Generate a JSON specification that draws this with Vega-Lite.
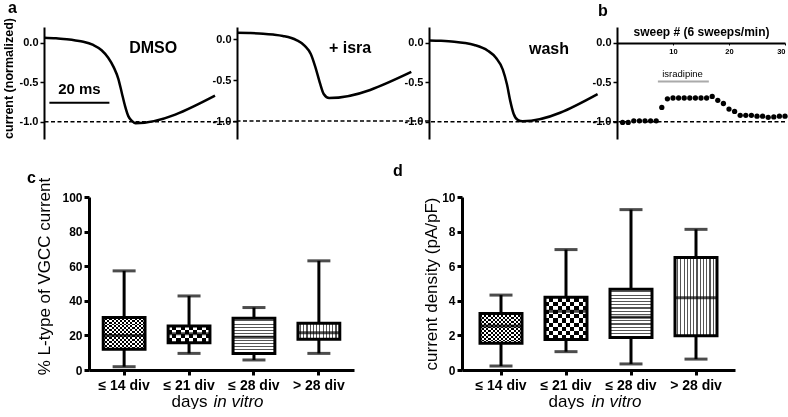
{
"$schema": "https://vega.github.io/schema/vega-lite/v6.json",
"padding": {"left": 2, "top": -1, "right": 0, "bottom": 0},
"config": {
  "view": {"stroke": null},
  "font": "Liberation Sans",
  "axis": {"grid": false, "domainColor": "black", "tickColor": "black", "labelColor": "black", "titleColor": "black", "labelFont": "Liberation Sans", "titleFont": "Liberation Sans", "labelFontWeight": "bold", "labelOverlap": false},
  "title": {"font": "Liberation Sans", "fontWeight": "bold", "fontSize": 16, "color": "black", "anchor": "start", "frame": "group"}
},
"datasets": {
  "tr": [
    {"c":"DMSO","t":0,"v":0.065},{"c":"DMSO","t":4,"v":0.058},{"c":"DMSO","t":7.6,"v":0.044},{"c":"DMSO","t":10.5,"v":0.03},{"c":"DMSO","t":13.1,"v":0.014},{"c":"DMSO","t":16.4,"v":-0.028},{"c":"DMSO","t":19.2,"v":-0.095},{"c":"DMSO","t":21.4,"v":-0.19},{"c":"DMSO","t":23.3,"v":-0.315},{"c":"DMSO","t":24.8,"v":-0.46},{"c":"DMSO","t":25.9,"v":-0.63},{"c":"DMSO","t":27,"v":-0.8},{"c":"DMSO","t":28.1,"v":-0.93},{"c":"DMSO","t":29.3,"v":-0.99},{"c":"DMSO","t":30.5,"v":-1.02},{"c":"DMSO","t":57,"v":-0.67},
    {"c":"isra","t":0,"v":0.08},{"c":"isra","t":4,"v":0.076},{"c":"isra","t":8.7,"v":0.068},{"c":"isra","t":12,"v":0.057},{"c":"isra","t":15.3,"v":0.04},{"c":"isra","t":19.8,"v":-0.01},{"c":"isra","t":22.6,"v":-0.08},{"c":"isra","t":24.6,"v":-0.18},{"c":"isra","t":26.2,"v":-0.35},{"c":"isra","t":27.6,"v":-0.53},{"c":"isra","t":28.9,"v":-0.67},{"c":"isra","t":30.7,"v":-0.72},{"c":"isra","t":58.1,"v":-0.4},
    {"c":"wash","t":0,"v":0.03},{"c":"wash","t":4,"v":0.025},{"c":"wash","t":8.4,"v":0.014},{"c":"wash","t":12,"v":-0.003},{"c":"wash","t":15.1,"v":-0.028},{"c":"wash","t":19.6,"v":-0.1},{"c":"wash","t":22.3,"v":-0.19},{"c":"wash","t":24.6,"v":-0.34},{"c":"wash","t":26,"v":-0.53},{"c":"wash","t":27.1,"v":-0.74},{"c":"wash","t":28.2,"v":-0.9},{"c":"wash","t":29.7,"v":-0.98},{"c":"wash","t":31.2,"v":-0.995},{"c":"wash","t":56.2,"v":-0.65}
  ],
  "sw": [
    {"s":1,"v":-1.01},{"s":2,"v":-1.01},{"s":3,"v":-0.99},{"s":4,"v":-0.99},{"s":5,"v":-0.99},{"s":6,"v":-0.99},{"s":7,"v":-0.99},{"s":8,"v":-0.82},{"s":9,"v":-0.71},{"s":10,"v":-0.7},
    {"s":11,"v":-0.7},{"s":12,"v":-0.7},{"s":13,"v":-0.7},{"s":14,"v":-0.7},{"s":15,"v":-0.7},{"s":16,"v":-0.7},{"s":17,"v":-0.68},{"s":18,"v":-0.73},{"s":19,"v":-0.77},{"s":20,"v":-0.84},
    {"s":21,"v":-0.87},{"s":22,"v":-0.92},{"s":23,"v":-0.92},{"s":24,"v":-0.92},{"s":25,"v":-0.93},{"s":26,"v":-0.93},{"s":27,"v":-0.945},{"s":28,"v":-0.94},{"s":29,"v":-0.93},{"s":30,"v":-0.93}
  ],
  "boxc": [
    {"g":"≤ 14 div","lo":1.9,"q1":12.0,"med":20.0,"q3":30.3,"hi":57.3},
    {"g":"≤ 21 div","lo":9.6,"q1":15.8,"med":21.0,"q3":25.5,"hi":42.8},
    {"g":"≤ 28 div","lo":5.8,"q1":9.6,"med":19.0,"q3":29.9,"hi":36.1},
    {"g":"> 28 div","lo":9.6,"q1":17.8,"med":21.6,"q3":27.0,"hi":63.1}
  ],
  "boxd": [
    {"g":"≤ 14 div","lo":0.23,"q1":1.54,"med":2.55,"q3":3.27,"hi":4.33},
    {"g":"≤ 21 div","lo":1.06,"q1":1.76,"med":3.4,"q3":4.2,"hi":6.96},
    {"g":"≤ 28 div","lo":0.35,"q1":1.88,"med":3.05,"q3":4.67,"hi":9.27},
    {"g":"> 28 div","lo":0.63,"q1":1.98,"med":4.17,"q3":6.5,"hi":8.13}
  ]
},
"spacing": 24,
"vconcat": [
{
  "spacing": 0, "bounds": "flush",
  "hconcat": [
  {
    "width": 193, "height": 112,
    "title": {"text": "a", "dx": -36, "offset": -11, "baseline": "alphabetic"},
    "layer": [
      {"data": {"values": [{"v": -1}]}, "mark": {"type": "rule", "strokeDash": [4, 2.5], "strokeWidth": 1.5, "color": "black"},
       "encoding": {"y": {"field": "v", "type": "quantitative", "scale": {"domain": [-1.22, 0.2], "nice": false, "zero": false},
         "axis": {"values": [0, -0.5, -1], "labelExpr": "datum.value === 0 ? '0.0' : (datum.value === -1 ? '-1.0' : '-0.5')", "labelFontSize": 11, "tickSize": 4, "tickWidth": 1.5, "domainWidth": 2, "labelPadding": 2, "title": "current (normalized)", "titleFontSize": 12.5, "titleFontWeight": "bold", "titlePadding": 4, "titleY": 51}}}},
      {"data": {"name": "tr"}, "transform": [{"filter": "datum.c === 'DMSO'"}],
       "mark": {"type": "line", "interpolate": "monotone", "color": "black", "strokeWidth": 2.5},
       "encoding": {"x": {"field": "t", "type": "quantitative", "scale": {"domain": [0, 64.33], "nice": false, "zero": false}, "axis": null},
                    "y": {"field": "v", "type": "quantitative"}}},
      {"data": {"values": [{"t": 1.8, "t2": 21.8, "v": -0.76}]}, "mark": {"type": "rule", "strokeWidth": 2, "color": "black"},
       "encoding": {"x": {"field": "t", "type": "quantitative"}, "x2": {"field": "t2"}, "y": {"field": "v", "type": "quantitative"}}},
      {"data": {"values": [{"t": 11.8, "v": -0.59, "s": "20 ms"}]}, "mark": {"type": "text", "fontSize": 15, "fontWeight": "bold", "color": "black"},
       "encoding": {"x": {"field": "t", "type": "quantitative"}, "y": {"field": "v", "type": "quantitative"}, "text": {"field": "s"}}},
      {"data": {"values": [{"t": 36.4, "v": -0.07, "s": "DMSO"}]}, "mark": {"type": "text", "fontSize": 16, "fontWeight": "bold", "color": "black"},
       "encoding": {"x": {"field": "t", "type": "quantitative"}, "y": {"field": "v", "type": "quantitative"}, "text": {"field": "s"}}}
    ]
  },
  {
    "width": 192, "height": 112,
    "layer": [
      {"data": {"values": [{"v": -1}]}, "mark": {"type": "rule", "strokeDash": [4, 2.5], "strokeWidth": 1.5, "color": "black"},
       "encoding": {"y": {"field": "v", "type": "quantitative", "scale": {"domain": [-1.22, 0.15], "nice": false, "zero": false},
         "axis": {"values": [0, -0.5, -1], "labelExpr": "datum.value === 0 ? '0.0' : (datum.value === -1 ? '-1.0' : '-0.5')", "labelFontSize": 11, "tickSize": 4, "tickWidth": 1.5, "domainWidth": 2, "labelPadding": 2, "title": null}}}},
      {"data": {"name": "tr"}, "transform": [{"filter": "datum.c === 'isra'"}],
       "mark": {"type": "line", "interpolate": "monotone", "color": "black", "strokeWidth": 2.5},
       "encoding": {"x": {"field": "t", "type": "quantitative", "scale": {"domain": [0, 64], "nice": false, "zero": false}, "axis": null},
                    "y": {"field": "v", "type": "quantitative"}}},
      {"data": {"values": [{"t": 37.7, "v": -0.11, "s": "+ isra"}]}, "mark": {"type": "text", "fontSize": 16, "fontWeight": "bold", "color": "black"},
       "encoding": {"x": {"field": "t", "type": "quantitative"}, "y": {"field": "v", "type": "quantitative"}, "text": {"field": "s"}}}
    ]
  },
  {
    "width": 188, "height": 112,
    "layer": [
      {"data": {"values": [{"v": -1}]}, "mark": {"type": "rule", "strokeDash": [4, 2.5], "strokeWidth": 1.5, "color": "black"},
       "encoding": {"y": {"field": "v", "type": "quantitative", "scale": {"domain": [-1.22, 0.2], "nice": false, "zero": false},
         "axis": {"values": [0, -0.5, -1], "labelExpr": "datum.value === 0 ? '0.0' : (datum.value === -1 ? '-1.0' : '-0.5')", "labelFontSize": 11, "tickSize": 4, "tickWidth": 1.5, "domainWidth": 2, "labelPadding": 2, "title": null}}}},
      {"data": {"name": "tr"}, "transform": [{"filter": "datum.c === 'wash'"}],
       "mark": {"type": "line", "interpolate": "monotone", "color": "black", "strokeWidth": 2.5},
       "encoding": {"x": {"field": "t", "type": "quantitative", "scale": {"domain": [0, 62.67], "nice": false, "zero": false}, "axis": null},
                    "y": {"field": "v", "type": "quantitative"}}},
      {"data": {"values": [{"t": 40, "v": -0.08, "s": "wash"}]}, "mark": {"type": "text", "fontSize": 16, "fontWeight": "bold", "color": "black"},
       "encoding": {"x": {"field": "t", "type": "quantitative"}, "y": {"field": "v", "type": "quantitative"}, "text": {"field": "s"}}}
    ]
  },
  {
    "width": 168, "height": 112,
    "title": {"text": "b", "dx": -19, "offset": -7, "baseline": "alphabetic"},
    "layer": [
      {"data": {"values": [{"v": -1}]}, "mark": {"type": "rule", "strokeDash": [4, 2.5], "strokeWidth": 1.5, "color": "black"},
       "encoding": {"y": {"field": "v", "type": "quantitative", "scale": {"domain": [-1.22, 0.2], "nice": false, "zero": false},
         "axis": {"values": [0, -0.5, -1], "labelExpr": "datum.value === 0 ? '0.0' : (datum.value === -1 ? '-1.0' : '-0.5')", "labelFontSize": 11, "tickSize": 4, "tickWidth": 1.5, "domainWidth": 2, "labelPadding": 2, "title": null}}}},
      {"data": {"name": "sw"}, "mark": {"type": "circle", "size": 28, "color": "black", "opacity": 1},
       "encoding": {"x": {"field": "s", "type": "quantitative", "scale": {"domain": [0, 30], "nice": false, "zero": false},
          "axis": {"orient": "bottom", "offset": -96, "values": [10, 20, 30], "labelFontSize": 7.5, "tickSize": 2, "tickWidth": 1, "domainWidth": 2, "labelPadding": 2, "title": "sweep # (6 sweeps/min)", "titleFontSize": 12, "titleFontWeight": "bold", "titleY": -8, "titleBaseline": "alphabetic"}},
                    "y": {"field": "v", "type": "quantitative"}}},
      {"data": {"values": [{"s": 7.3, "s2": 16.4, "v": -0.49}]}, "mark": {"type": "rule", "color": "#aaa", "strokeWidth": 2},
       "encoding": {"x": {"field": "s", "type": "quantitative"}, "x2": {"field": "s2"}, "y": {"field": "v", "type": "quantitative"}}},
      {"data": {"values": [{"s": 11.7, "v": -0.39, "t": "isradipine"}]}, "mark": {"type": "text", "fontSize": 9.5, "color": "black"},
       "encoding": {"x": {"field": "s", "type": "quantitative"}, "y": {"field": "v", "type": "quantitative"}, "text": {"field": "t"}}}
    ]
  }
  ]
},
{
  "spacing": 0, "bounds": "flush",
  "hconcat": [
  {"width": 45, "height": 173, "data": {"values": [{}]}, "mark": {"type": "point", "opacity": 0}, "encoding": {}},
  {
    "width": 265, "height": 173,
    "title": {"text": "c", "dx": -62, "offset": -22, "baseline": "alphabetic"},
    "data": {"name": "boxc"},
    "resolve": {"axis": {"x": "independent"}},
    "layer": [
      {
        "encoding": {"x": {"field": "g", "type": "nominal", "sort": null,
          "scale": {"type": "band", "domain": ["≤ 14 div", "≤ 21 div", "≤ 28 div", "> 28 div"], "paddingInner": 0.356, "paddingOuter": 0.219},
          "axis": {"orient": "bottom", "labelAngle": 0, "labelFontSize": 14, "tickSize": 5, "tickWidth": 3, "domainWidth": 3, "labelPadding": 3, "title": "days", "titleFontSize": 17, "titleFontWeight": "normal", "titleX": 82, "titleY": 36, "titleAlign": "left", "titleBaseline": "alphabetic"}}},
        "layer": [
          {"mark": {"type": "rule", "strokeWidth": 3, "color": "black"},
           "encoding": {"y": {"field": "lo", "type": "quantitative", "title": "% L-type of VGCC current", "scale": {"domain": [0, 100], "nice": false},
              "axis": {"values": [0, 20, 40, 60, 80, 100], "labelFontSize": 12, "labelFontWeight": "bold", "labelColor": "black", "tickSize": 5, "tickWidth": 3, "domainWidth": 3, "labelPadding": 2, "labelOverlap": false, "titleFontSize": 17, "titleFontWeight": "normal", "titlePadding": 8, "titleY": 79}},
              "y2": {"field": "hi"}}},
          {"mark": {"type": "tick", "size": 23, "thickness": 3, "color": "black"}, "encoding": {"y": {"field": "lo", "type": "quantitative", "title": "% L-type of VGCC current", "axis": {"values": [0, 20, 40, 60, 80, 100], "labelFontSize": 12, "labelFontWeight": "bold", "labelColor": "black", "tickSize": 5, "tickWidth": 3, "domainWidth": 3, "labelPadding": 2, "labelOverlap": false, "titleFontSize": 17, "titleFontWeight": "normal", "titlePadding": 8, "titleY": 79}}}},
          {"mark": {"type": "tick", "size": 23, "thickness": 3, "color": "black"}, "encoding": {"y": {"field": "hi", "type": "quantitative", "title": "% L-type of VGCC current", "axis": {"values": [0, 20, 40, 60, 80, 100], "labelFontSize": 12, "labelFontWeight": "bold", "labelColor": "black", "tickSize": 5, "tickWidth": 3, "domainWidth": 3, "labelPadding": 2, "labelOverlap": false, "titleFontSize": 17, "titleFontWeight": "normal", "titlePadding": 8, "titleY": 79}}}},
          {"transform": [{"filter": "datum.g === '≤ 14 div'"}],
           "mark": {"type": "bar", "fill": {"gradient": "linear", "x1": 0, "y1": 0, "x2": 0, "y2": 1, "stops": [{"offset":0,"color":"#fff"},{"offset":0.0625,"color":"#fff"},{"offset":0.0625,"color":"#000"},{"offset":0.125,"color":"#000"},{"offset":0.125,"color":"#fff"},{"offset":0.1875,"color":"#fff"},{"offset":0.1875,"color":"#000"},{"offset":0.25,"color":"#000"},{"offset":0.25,"color":"#fff"},{"offset":0.3125,"color":"#fff"},{"offset":0.3125,"color":"#000"},{"offset":0.375,"color":"#000"},{"offset":0.375,"color":"#fff"},{"offset":0.4375,"color":"#fff"},{"offset":0.4375,"color":"#000"},{"offset":0.5,"color":"#000"},{"offset":0.5,"color":"#fff"},{"offset":0.5625,"color":"#fff"},{"offset":0.5625,"color":"#000"},{"offset":0.625,"color":"#000"},{"offset":0.625,"color":"#fff"},{"offset":0.6875,"color":"#fff"},{"offset":0.6875,"color":"#000"},{"offset":0.75,"color":"#000"},{"offset":0.75,"color":"#fff"},{"offset":0.8125,"color":"#fff"},{"offset":0.8125,"color":"#000"},{"offset":0.875,"color":"#000"},{"offset":0.875,"color":"#fff"},{"offset":0.9375,"color":"#fff"},{"offset":0.9375,"color":"#000"},{"offset":1,"color":"#000"}]}},
           "encoding": {"y": {"field": "q1", "type": "quantitative", "title": "% L-type of VGCC current", "axis": {"values": [0, 20, 40, 60, 80, 100], "labelFontSize": 12, "labelFontWeight": "bold", "labelColor": "black", "tickSize": 5, "tickWidth": 3, "domainWidth": 3, "labelPadding": 2, "labelOverlap": false, "titleFontSize": 17, "titleFontWeight": "normal", "titlePadding": 8, "titleY": 79}}, "y2": {"field": "q3"}}},
          {"transform": [{"filter": "datum.g === '≤ 14 div'"}],
           "mark": {"type": "bar", "blend": "difference", "fill": {"gradient": "linear", "x1": 0, "y1": 0, "x2": 1, "y2": 0, "stops": [{"offset":0,"color":"#000"},{"offset":0.05,"color":"#000"},{"offset":0.05,"color":"#fff"},{"offset":0.1,"color":"#fff"},{"offset":0.1,"color":"#000"},{"offset":0.15,"color":"#000"},{"offset":0.15,"color":"#fff"},{"offset":0.2,"color":"#fff"},{"offset":0.2,"color":"#000"},{"offset":0.25,"color":"#000"},{"offset":0.25,"color":"#fff"},{"offset":0.3,"color":"#fff"},{"offset":0.3,"color":"#000"},{"offset":0.35,"color":"#000"},{"offset":0.35,"color":"#fff"},{"offset":0.4,"color":"#fff"},{"offset":0.4,"color":"#000"},{"offset":0.45,"color":"#000"},{"offset":0.45,"color":"#fff"},{"offset":0.5,"color":"#fff"},{"offset":0.5,"color":"#000"},{"offset":0.55,"color":"#000"},{"offset":0.55,"color":"#fff"},{"offset":0.6,"color":"#fff"},{"offset":0.6,"color":"#000"},{"offset":0.65,"color":"#000"},{"offset":0.65,"color":"#fff"},{"offset":0.7,"color":"#fff"},{"offset":0.7,"color":"#000"},{"offset":0.75,"color":"#000"},{"offset":0.75,"color":"#fff"},{"offset":0.8,"color":"#fff"},{"offset":0.8,"color":"#000"},{"offset":0.85,"color":"#000"},{"offset":0.85,"color":"#fff"},{"offset":0.9,"color":"#fff"},{"offset":0.9,"color":"#000"},{"offset":0.95,"color":"#000"},{"offset":0.95,"color":"#fff"},{"offset":1,"color":"#fff"}]}},
           "encoding": {"y": {"field": "q1", "type": "quantitative", "title": "% L-type of VGCC current", "axis": {"values": [0, 20, 40, 60, 80, 100], "labelFontSize": 12, "labelFontWeight": "bold", "labelColor": "black", "tickSize": 5, "tickWidth": 3, "domainWidth": 3, "labelPadding": 2, "labelOverlap": false, "titleFontSize": 17, "titleFontWeight": "normal", "titlePadding": 8, "titleY": 79}}, "y2": {"field": "q3"}}},
          {"transform": [{"filter": "datum.g === '≤ 21 div'"}],
           "mark": {"type": "bar", "fill": {"gradient": "linear", "x1": 0, "y1": 0, "x2": 0, "y2": 1, "stops": [{"offset":0,"color":"#fff"},{"offset":0.25,"color":"#fff"},{"offset":0.25,"color":"#000"},{"offset":0.5,"color":"#000"},{"offset":0.5,"color":"#fff"},{"offset":0.75,"color":"#fff"},{"offset":0.75,"color":"#000"},{"offset":1,"color":"#000"}]}},
           "encoding": {"y": {"field": "q1", "type": "quantitative", "title": "% L-type of VGCC current", "axis": {"values": [0, 20, 40, 60, 80, 100], "labelFontSize": 12, "labelFontWeight": "bold", "labelColor": "black", "tickSize": 5, "tickWidth": 3, "domainWidth": 3, "labelPadding": 2, "labelOverlap": false, "titleFontSize": 17, "titleFontWeight": "normal", "titlePadding": 8, "titleY": 79}}, "y2": {"field": "q3"}}},
          {"transform": [{"filter": "datum.g === '≤ 21 div'"}],
           "mark": {"type": "bar", "blend": "difference", "fill": {"gradient": "linear", "x1": 0, "y1": 0, "x2": 1, "y2": 0, "stops": [{"offset":0,"color":"#000"},{"offset":0.1,"color":"#000"},{"offset":0.1,"color":"#fff"},{"offset":0.2,"color":"#fff"},{"offset":0.2,"color":"#000"},{"offset":0.3,"color":"#000"},{"offset":0.3,"color":"#fff"},{"offset":0.4,"color":"#fff"},{"offset":0.4,"color":"#000"},{"offset":0.5,"color":"#000"},{"offset":0.5,"color":"#fff"},{"offset":0.6,"color":"#fff"},{"offset":0.6,"color":"#000"},{"offset":0.7,"color":"#000"},{"offset":0.7,"color":"#fff"},{"offset":0.8,"color":"#fff"},{"offset":0.8,"color":"#000"},{"offset":0.9,"color":"#000"},{"offset":0.9,"color":"#fff"},{"offset":1,"color":"#fff"}]}},
           "encoding": {"y": {"field": "q1", "type": "quantitative", "title": "% L-type of VGCC current", "axis": {"values": [0, 20, 40, 60, 80, 100], "labelFontSize": 12, "labelFontWeight": "bold", "labelColor": "black", "tickSize": 5, "tickWidth": 3, "domainWidth": 3, "labelPadding": 2, "labelOverlap": false, "titleFontSize": 17, "titleFontWeight": "normal", "titlePadding": 8, "titleY": 79}}, "y2": {"field": "q3"}}},
          {"transform": [{"filter": "datum.g === '≤ 28 div'"}],
           "mark": {"type": "bar", "fill": {"gradient": "linear", "x1": 0, "y1": 0, "x2": 0, "y2": 1, "stops": [{"offset":0,"color":"#fff"},{"offset":0.0591,"color":"#fff"},{"offset":0.0591,"color":"#555"},{"offset":0.0909,"color":"#555"},{"offset":0.0909,"color":"#fff"},{"offset":0.15,"color":"#fff"},{"offset":0.15,"color":"#555"},{"offset":0.1818,"color":"#555"},{"offset":0.1818,"color":"#fff"},{"offset":0.2409,"color":"#fff"},{"offset":0.2409,"color":"#555"},{"offset":0.2727,"color":"#555"},{"offset":0.2727,"color":"#fff"},{"offset":0.3318,"color":"#fff"},{"offset":0.3318,"color":"#555"},{"offset":0.3636,"color":"#555"},{"offset":0.3636,"color":"#fff"},{"offset":0.4227,"color":"#fff"},{"offset":0.4227,"color":"#555"},{"offset":0.4545,"color":"#555"},{"offset":0.4545,"color":"#fff"},{"offset":0.5136,"color":"#fff"},{"offset":0.5136,"color":"#555"},{"offset":0.5455,"color":"#555"},{"offset":0.5455,"color":"#fff"},{"offset":0.6045,"color":"#fff"},{"offset":0.6045,"color":"#555"},{"offset":0.6364,"color":"#555"},{"offset":0.6364,"color":"#fff"},{"offset":0.6955,"color":"#fff"},{"offset":0.6955,"color":"#555"},{"offset":0.7273,"color":"#555"},{"offset":0.7273,"color":"#fff"},{"offset":0.7864,"color":"#fff"},{"offset":0.7864,"color":"#555"},{"offset":0.8182,"color":"#555"},{"offset":0.8182,"color":"#fff"},{"offset":0.8773,"color":"#fff"},{"offset":0.8773,"color":"#555"},{"offset":0.9091,"color":"#555"},{"offset":0.9091,"color":"#fff"},{"offset":0.9682,"color":"#fff"},{"offset":0.9682,"color":"#555"},{"offset":1,"color":"#555"}]}},
           "encoding": {"y": {"field": "q1", "type": "quantitative", "title": "% L-type of VGCC current", "axis": {"values": [0, 20, 40, 60, 80, 100], "labelFontSize": 12, "labelFontWeight": "bold", "labelColor": "black", "tickSize": 5, "tickWidth": 3, "domainWidth": 3, "labelPadding": 2, "labelOverlap": false, "titleFontSize": 17, "titleFontWeight": "normal", "titlePadding": 8, "titleY": 79}}, "y2": {"field": "q3"}}},
          {"transform": [{"filter": "datum.g === '> 28 div'"}],
           "mark": {"type": "bar", "fill": {"gradient": "linear", "x1": 0, "y1": 0, "x2": 1, "y2": 0, "stops": [{"offset":0,"color":"#fff"},{"offset":0.05,"color":"#fff"},{"offset":0.05,"color":"#555"},{"offset":0.0769,"color":"#555"},{"offset":0.0769,"color":"#fff"},{"offset":0.1269,"color":"#fff"},{"offset":0.1269,"color":"#555"},{"offset":0.1538,"color":"#555"},{"offset":0.1538,"color":"#fff"},{"offset":0.2038,"color":"#fff"},{"offset":0.2038,"color":"#555"},{"offset":0.2308,"color":"#555"},{"offset":0.2308,"color":"#fff"},{"offset":0.2808,"color":"#fff"},{"offset":0.2808,"color":"#555"},{"offset":0.3077,"color":"#555"},{"offset":0.3077,"color":"#fff"},{"offset":0.3577,"color":"#fff"},{"offset":0.3577,"color":"#555"},{"offset":0.3846,"color":"#555"},{"offset":0.3846,"color":"#fff"},{"offset":0.4346,"color":"#fff"},{"offset":0.4346,"color":"#555"},{"offset":0.4615,"color":"#555"},{"offset":0.4615,"color":"#fff"},{"offset":0.5115,"color":"#fff"},{"offset":0.5115,"color":"#555"},{"offset":0.5385,"color":"#555"},{"offset":0.5385,"color":"#fff"},{"offset":0.5885,"color":"#fff"},{"offset":0.5885,"color":"#555"},{"offset":0.6154,"color":"#555"},{"offset":0.6154,"color":"#fff"},{"offset":0.6654,"color":"#fff"},{"offset":0.6654,"color":"#555"},{"offset":0.6923,"color":"#555"},{"offset":0.6923,"color":"#fff"},{"offset":0.7423,"color":"#fff"},{"offset":0.7423,"color":"#555"},{"offset":0.7692,"color":"#555"},{"offset":0.7692,"color":"#fff"},{"offset":0.8192,"color":"#fff"},{"offset":0.8192,"color":"#555"},{"offset":0.8462,"color":"#555"},{"offset":0.8462,"color":"#fff"},{"offset":0.8962,"color":"#fff"},{"offset":0.8962,"color":"#555"},{"offset":0.9231,"color":"#555"},{"offset":0.9231,"color":"#fff"},{"offset":0.9731,"color":"#fff"},{"offset":0.9731,"color":"#555"},{"offset":1,"color":"#555"}]}},
           "encoding": {"y": {"field": "q1", "type": "quantitative", "title": "% L-type of VGCC current", "axis": {"values": [0, 20, 40, 60, 80, 100], "labelFontSize": 12, "labelFontWeight": "bold", "labelColor": "black", "tickSize": 5, "tickWidth": 3, "domainWidth": 3, "labelPadding": 2, "labelOverlap": false, "titleFontSize": 17, "titleFontWeight": "normal", "titlePadding": 8, "titleY": 79}}, "y2": {"field": "q3"}}},
          {"mark": {"type": "tick", "size": 42, "thickness": 3, "color": "black"}, "encoding": {"y": {"field": "med", "type": "quantitative", "title": "% L-type of VGCC current", "axis": {"values": [0, 20, 40, 60, 80, 100], "labelFontSize": 12, "labelFontWeight": "bold", "labelColor": "black", "tickSize": 5, "tickWidth": 3, "domainWidth": 3, "labelPadding": 2, "labelOverlap": false, "titleFontSize": 17, "titleFontWeight": "normal", "titlePadding": 8, "titleY": 79}}}},
          {"mark": {"type": "bar", "fill": "transparent", "stroke": "black", "strokeWidth": 3}, "encoding": {"y": {"field": "q1", "type": "quantitative", "title": "% L-type of VGCC current", "axis": {"values": [0, 20, 40, 60, 80, 100], "labelFontSize": 12, "labelFontWeight": "bold", "labelColor": "black", "tickSize": 5, "tickWidth": 3, "domainWidth": 3, "labelPadding": 2, "labelOverlap": false, "titleFontSize": 17, "titleFontWeight": "normal", "titlePadding": 8, "titleY": 79}}, "y2": {"field": "q3"}}}
        ]
      },
      {"mark": {"type": "rule", "opacity": 0},
       "encoding": {"x": {"field": "g", "type": "nominal", "sort": null,
          "scale": {"type": "band", "domain": ["≤ 14 div", "≤ 21 div", "≤ 28 div", "> 28 div"], "paddingInner": 0.356, "paddingOuter": 0.219},
          "axis": {"orient": "bottom", "labels": false, "ticks": false, "domain": false, "title": "in vitro", "titleFontSize": 17, "titleFontWeight": "normal", "titleFontStyle": "italic", "titleX": 124, "titleY": 36, "titleAlign": "left", "titleBaseline": "alphabetic"}}}}
    ]
  },
  {"width": 108, "height": 173, "data": {"values": [{}]}, "mark": {"type": "point", "opacity": 0}, "encoding": {}},
  {
    "width": 273, "height": 173,
    "title": {"text": "d", "dx": -69, "offset": -1, "baseline": "alphabetic"},
    "data": {"name": "boxd"},
    "resolve": {"axis": {"x": "independent"}},
    "layer": [
      {
        "encoding": {"x": {"field": "g", "type": "nominal", "sort": null,
          "scale": {"type": "band", "domain": ["≤ 14 div", "≤ 21 div", "≤ 28 div", "> 28 div"], "paddingInner": 0.354, "paddingOuter": 0.277},
          "axis": {"orient": "bottom", "labelAngle": 0, "labelFontSize": 14, "tickSize": 5, "tickWidth": 3, "domainWidth": 3, "labelPadding": 3, "title": "days", "titleFontSize": 17, "titleFontWeight": "normal", "titleX": 86, "titleY": 36, "titleAlign": "left", "titleBaseline": "alphabetic"}}},
        "layer": [
          {"mark": {"type": "rule", "strokeWidth": 3, "color": "black"},
           "encoding": {"y": {"field": "lo", "type": "quantitative", "title": "current density (pA/pF)", "scale": {"domain": [0, 10], "nice": false},
              "axis": {"values": [0, 2, 4, 6, 8, 10], "labelFontSize": 12, "labelFontWeight": "bold", "labelColor": "black", "tickSize": 5, "tickWidth": 3, "domainWidth": 3, "labelPadding": 2, "labelOverlap": false, "titleFontSize": 17, "titleFontWeight": "normal", "titlePadding": 1}},
              "y2": {"field": "hi"}}},
          {"mark": {"type": "tick", "size": 23, "thickness": 3, "color": "black"}, "encoding": {"y": {"field": "lo", "type": "quantitative", "title": "current density (pA/pF)", "axis": {"values": [0, 2, 4, 6, 8, 10], "labelFontSize": 12, "labelFontWeight": "bold", "labelColor": "black", "tickSize": 5, "tickWidth": 3, "domainWidth": 3, "labelPadding": 2, "labelOverlap": false, "titleFontSize": 17, "titleFontWeight": "normal", "titlePadding": 1}}}},
          {"mark": {"type": "tick", "size": 23, "thickness": 3, "color": "black"}, "encoding": {"y": {"field": "hi", "type": "quantitative", "title": "current density (pA/pF)", "axis": {"values": [0, 2, 4, 6, 8, 10], "labelFontSize": 12, "labelFontWeight": "bold", "labelColor": "black", "tickSize": 5, "tickWidth": 3, "domainWidth": 3, "labelPadding": 2, "labelOverlap": false, "titleFontSize": 17, "titleFontWeight": "normal", "titlePadding": 1}}}},
          {"transform": [{"filter": "datum.g === '≤ 14 div'"}],
           "mark": {"type": "bar", "fill": {"gradient": "linear", "x1": 0, "y1": 0, "x2": 0, "y2": 1, "stops": [{"offset":0,"color":"#fff"},{"offset":0.0625,"color":"#fff"},{"offset":0.0625,"color":"#000"},{"offset":0.125,"color":"#000"},{"offset":0.125,"color":"#fff"},{"offset":0.1875,"color":"#fff"},{"offset":0.1875,"color":"#000"},{"offset":0.25,"color":"#000"},{"offset":0.25,"color":"#fff"},{"offset":0.3125,"color":"#fff"},{"offset":0.3125,"color":"#000"},{"offset":0.375,"color":"#000"},{"offset":0.375,"color":"#fff"},{"offset":0.4375,"color":"#fff"},{"offset":0.4375,"color":"#000"},{"offset":0.5,"color":"#000"},{"offset":0.5,"color":"#fff"},{"offset":0.5625,"color":"#fff"},{"offset":0.5625,"color":"#000"},{"offset":0.625,"color":"#000"},{"offset":0.625,"color":"#fff"},{"offset":0.6875,"color":"#fff"},{"offset":0.6875,"color":"#000"},{"offset":0.75,"color":"#000"},{"offset":0.75,"color":"#fff"},{"offset":0.8125,"color":"#fff"},{"offset":0.8125,"color":"#000"},{"offset":0.875,"color":"#000"},{"offset":0.875,"color":"#fff"},{"offset":0.9375,"color":"#fff"},{"offset":0.9375,"color":"#000"},{"offset":1,"color":"#000"}]}},
           "encoding": {"y": {"field": "q1", "type": "quantitative", "title": "current density (pA/pF)", "axis": {"values": [0, 2, 4, 6, 8, 10], "labelFontSize": 12, "labelFontWeight": "bold", "labelColor": "black", "tickSize": 5, "tickWidth": 3, "domainWidth": 3, "labelPadding": 2, "labelOverlap": false, "titleFontSize": 17, "titleFontWeight": "normal", "titlePadding": 1}}, "y2": {"field": "q3"}}},
          {"transform": [{"filter": "datum.g === '≤ 14 div'"}],
           "mark": {"type": "bar", "blend": "difference", "fill": {"gradient": "linear", "x1": 0, "y1": 0, "x2": 1, "y2": 0, "stops": [{"offset":0,"color":"#000"},{"offset":0.05,"color":"#000"},{"offset":0.05,"color":"#fff"},{"offset":0.1,"color":"#fff"},{"offset":0.1,"color":"#000"},{"offset":0.15,"color":"#000"},{"offset":0.15,"color":"#fff"},{"offset":0.2,"color":"#fff"},{"offset":0.2,"color":"#000"},{"offset":0.25,"color":"#000"},{"offset":0.25,"color":"#fff"},{"offset":0.3,"color":"#fff"},{"offset":0.3,"color":"#000"},{"offset":0.35,"color":"#000"},{"offset":0.35,"color":"#fff"},{"offset":0.4,"color":"#fff"},{"offset":0.4,"color":"#000"},{"offset":0.45,"color":"#000"},{"offset":0.45,"color":"#fff"},{"offset":0.5,"color":"#fff"},{"offset":0.5,"color":"#000"},{"offset":0.55,"color":"#000"},{"offset":0.55,"color":"#fff"},{"offset":0.6,"color":"#fff"},{"offset":0.6,"color":"#000"},{"offset":0.65,"color":"#000"},{"offset":0.65,"color":"#fff"},{"offset":0.7,"color":"#fff"},{"offset":0.7,"color":"#000"},{"offset":0.75,"color":"#000"},{"offset":0.75,"color":"#fff"},{"offset":0.8,"color":"#fff"},{"offset":0.8,"color":"#000"},{"offset":0.85,"color":"#000"},{"offset":0.85,"color":"#fff"},{"offset":0.9,"color":"#fff"},{"offset":0.9,"color":"#000"},{"offset":0.95,"color":"#000"},{"offset":0.95,"color":"#fff"},{"offset":1,"color":"#fff"}]}},
           "encoding": {"y": {"field": "q1", "type": "quantitative", "title": "current density (pA/pF)", "axis": {"values": [0, 2, 4, 6, 8, 10], "labelFontSize": 12, "labelFontWeight": "bold", "labelColor": "black", "tickSize": 5, "tickWidth": 3, "domainWidth": 3, "labelPadding": 2, "labelOverlap": false, "titleFontSize": 17, "titleFontWeight": "normal", "titlePadding": 1}}, "y2": {"field": "q3"}}},
          {"transform": [{"filter": "datum.g === '≤ 21 div'"}],
           "mark": {"type": "bar", "fill": {"gradient": "linear", "x1": 0, "y1": 0, "x2": 0, "y2": 1, "stops": [{"offset":0,"color":"#fff"},{"offset":0.1,"color":"#fff"},{"offset":0.1,"color":"#000"},{"offset":0.2,"color":"#000"},{"offset":0.2,"color":"#fff"},{"offset":0.3,"color":"#fff"},{"offset":0.3,"color":"#000"},{"offset":0.4,"color":"#000"},{"offset":0.4,"color":"#fff"},{"offset":0.5,"color":"#fff"},{"offset":0.5,"color":"#000"},{"offset":0.6,"color":"#000"},{"offset":0.6,"color":"#fff"},{"offset":0.7,"color":"#fff"},{"offset":0.7,"color":"#000"},{"offset":0.8,"color":"#000"},{"offset":0.8,"color":"#fff"},{"offset":0.9,"color":"#fff"},{"offset":0.9,"color":"#000"},{"offset":1,"color":"#000"}]}},
           "encoding": {"y": {"field": "q1", "type": "quantitative", "title": "current density (pA/pF)", "axis": {"values": [0, 2, 4, 6, 8, 10], "labelFontSize": 12, "labelFontWeight": "bold", "labelColor": "black", "tickSize": 5, "tickWidth": 3, "domainWidth": 3, "labelPadding": 2, "labelOverlap": false, "titleFontSize": 17, "titleFontWeight": "normal", "titlePadding": 1}}, "y2": {"field": "q3"}}},
          {"transform": [{"filter": "datum.g === '≤ 21 div'"}],
           "mark": {"type": "bar", "blend": "difference", "fill": {"gradient": "linear", "x1": 0, "y1": 0, "x2": 1, "y2": 0, "stops": [{"offset":0,"color":"#000"},{"offset":0.1,"color":"#000"},{"offset":0.1,"color":"#fff"},{"offset":0.2,"color":"#fff"},{"offset":0.2,"color":"#000"},{"offset":0.3,"color":"#000"},{"offset":0.3,"color":"#fff"},{"offset":0.4,"color":"#fff"},{"offset":0.4,"color":"#000"},{"offset":0.5,"color":"#000"},{"offset":0.5,"color":"#fff"},{"offset":0.6,"color":"#fff"},{"offset":0.6,"color":"#000"},{"offset":0.7,"color":"#000"},{"offset":0.7,"color":"#fff"},{"offset":0.8,"color":"#fff"},{"offset":0.8,"color":"#000"},{"offset":0.9,"color":"#000"},{"offset":0.9,"color":"#fff"},{"offset":1,"color":"#fff"}]}},
           "encoding": {"y": {"field": "q1", "type": "quantitative", "title": "current density (pA/pF)", "axis": {"values": [0, 2, 4, 6, 8, 10], "labelFontSize": 12, "labelFontWeight": "bold", "labelColor": "black", "tickSize": 5, "tickWidth": 3, "domainWidth": 3, "labelPadding": 2, "labelOverlap": false, "titleFontSize": 17, "titleFontWeight": "normal", "titlePadding": 1}}, "y2": {"field": "q3"}}},
          {"transform": [{"filter": "datum.g === '≤ 28 div'"}],
           "mark": {"type": "bar", "fill": {"gradient": "linear", "x1": 0, "y1": 0, "x2": 0, "y2": 1, "stops": [{"offset":0,"color":"#fff"},{"offset":0.0433,"color":"#fff"},{"offset":0.0433,"color":"#555"},{"offset":0.0667,"color":"#555"},{"offset":0.0667,"color":"#fff"},{"offset":0.11,"color":"#fff"},{"offset":0.11,"color":"#555"},{"offset":0.1333,"color":"#555"},{"offset":0.1333,"color":"#fff"},{"offset":0.1767,"color":"#fff"},{"offset":0.1767,"color":"#555"},{"offset":0.2,"color":"#555"},{"offset":0.2,"color":"#fff"},{"offset":0.2433,"color":"#fff"},{"offset":0.2433,"color":"#555"},{"offset":0.2667,"color":"#555"},{"offset":0.2667,"color":"#fff"},{"offset":0.31,"color":"#fff"},{"offset":0.31,"color":"#555"},{"offset":0.3333,"color":"#555"},{"offset":0.3333,"color":"#fff"},{"offset":0.3767,"color":"#fff"},{"offset":0.3767,"color":"#555"},{"offset":0.4,"color":"#555"},{"offset":0.4,"color":"#fff"},{"offset":0.4433,"color":"#fff"},{"offset":0.4433,"color":"#555"},{"offset":0.4667,"color":"#555"},{"offset":0.4667,"color":"#fff"},{"offset":0.51,"color":"#fff"},{"offset":0.51,"color":"#555"},{"offset":0.5333,"color":"#555"},{"offset":0.5333,"color":"#fff"},{"offset":0.5767,"color":"#fff"},{"offset":0.5767,"color":"#555"},{"offset":0.6,"color":"#555"},{"offset":0.6,"color":"#fff"},{"offset":0.6433,"color":"#fff"},{"offset":0.6433,"color":"#555"},{"offset":0.6667,"color":"#555"},{"offset":0.6667,"color":"#fff"},{"offset":0.71,"color":"#fff"},{"offset":0.71,"color":"#555"},{"offset":0.7333,"color":"#555"},{"offset":0.7333,"color":"#fff"},{"offset":0.7767,"color":"#fff"},{"offset":0.7767,"color":"#555"},{"offset":0.8,"color":"#555"},{"offset":0.8,"color":"#fff"},{"offset":0.8433,"color":"#fff"},{"offset":0.8433,"color":"#555"},{"offset":0.8667,"color":"#555"},{"offset":0.8667,"color":"#fff"},{"offset":0.91,"color":"#fff"},{"offset":0.91,"color":"#555"},{"offset":0.9333,"color":"#555"},{"offset":0.9333,"color":"#fff"},{"offset":0.9767,"color":"#fff"},{"offset":0.9767,"color":"#555"},{"offset":1,"color":"#555"}]}},
           "encoding": {"y": {"field": "q1", "type": "quantitative", "title": "current density (pA/pF)", "axis": {"values": [0, 2, 4, 6, 8, 10], "labelFontSize": 12, "labelFontWeight": "bold", "labelColor": "black", "tickSize": 5, "tickWidth": 3, "domainWidth": 3, "labelPadding": 2, "labelOverlap": false, "titleFontSize": 17, "titleFontWeight": "normal", "titlePadding": 1}}, "y2": {"field": "q3"}}},
          {"transform": [{"filter": "datum.g === '> 28 div'"}],
           "mark": {"type": "bar", "fill": {"gradient": "linear", "x1": 0, "y1": 0, "x2": 1, "y2": 0, "stops": [{"offset":0,"color":"#fff"},{"offset":0.05,"color":"#fff"},{"offset":0.05,"color":"#555"},{"offset":0.0769,"color":"#555"},{"offset":0.0769,"color":"#fff"},{"offset":0.1269,"color":"#fff"},{"offset":0.1269,"color":"#555"},{"offset":0.1538,"color":"#555"},{"offset":0.1538,"color":"#fff"},{"offset":0.2038,"color":"#fff"},{"offset":0.2038,"color":"#555"},{"offset":0.2308,"color":"#555"},{"offset":0.2308,"color":"#fff"},{"offset":0.2808,"color":"#fff"},{"offset":0.2808,"color":"#555"},{"offset":0.3077,"color":"#555"},{"offset":0.3077,"color":"#fff"},{"offset":0.3577,"color":"#fff"},{"offset":0.3577,"color":"#555"},{"offset":0.3846,"color":"#555"},{"offset":0.3846,"color":"#fff"},{"offset":0.4346,"color":"#fff"},{"offset":0.4346,"color":"#555"},{"offset":0.4615,"color":"#555"},{"offset":0.4615,"color":"#fff"},{"offset":0.5115,"color":"#fff"},{"offset":0.5115,"color":"#555"},{"offset":0.5385,"color":"#555"},{"offset":0.5385,"color":"#fff"},{"offset":0.5885,"color":"#fff"},{"offset":0.5885,"color":"#555"},{"offset":0.6154,"color":"#555"},{"offset":0.6154,"color":"#fff"},{"offset":0.6654,"color":"#fff"},{"offset":0.6654,"color":"#555"},{"offset":0.6923,"color":"#555"},{"offset":0.6923,"color":"#fff"},{"offset":0.7423,"color":"#fff"},{"offset":0.7423,"color":"#555"},{"offset":0.7692,"color":"#555"},{"offset":0.7692,"color":"#fff"},{"offset":0.8192,"color":"#fff"},{"offset":0.8192,"color":"#555"},{"offset":0.8462,"color":"#555"},{"offset":0.8462,"color":"#fff"},{"offset":0.8962,"color":"#fff"},{"offset":0.8962,"color":"#555"},{"offset":0.9231,"color":"#555"},{"offset":0.9231,"color":"#fff"},{"offset":0.9731,"color":"#fff"},{"offset":0.9731,"color":"#555"},{"offset":1,"color":"#555"}]}},
           "encoding": {"y": {"field": "q1", "type": "quantitative", "title": "current density (pA/pF)", "axis": {"values": [0, 2, 4, 6, 8, 10], "labelFontSize": 12, "labelFontWeight": "bold", "labelColor": "black", "tickSize": 5, "tickWidth": 3, "domainWidth": 3, "labelPadding": 2, "labelOverlap": false, "titleFontSize": 17, "titleFontWeight": "normal", "titlePadding": 1}}, "y2": {"field": "q3"}}},
          {"mark": {"type": "tick", "size": 42, "thickness": 3, "color": "black"}, "encoding": {"y": {"field": "med", "type": "quantitative", "title": "current density (pA/pF)", "axis": {"values": [0, 2, 4, 6, 8, 10], "labelFontSize": 12, "labelFontWeight": "bold", "labelColor": "black", "tickSize": 5, "tickWidth": 3, "domainWidth": 3, "labelPadding": 2, "labelOverlap": false, "titleFontSize": 17, "titleFontWeight": "normal", "titlePadding": 1}}}},
          {"mark": {"type": "bar", "fill": "transparent", "stroke": "black", "strokeWidth": 3}, "encoding": {"y": {"field": "q1", "type": "quantitative", "title": "current density (pA/pF)", "axis": {"values": [0, 2, 4, 6, 8, 10], "labelFontSize": 12, "labelFontWeight": "bold", "labelColor": "black", "tickSize": 5, "tickWidth": 3, "domainWidth": 3, "labelPadding": 2, "labelOverlap": false, "titleFontSize": 17, "titleFontWeight": "normal", "titlePadding": 1}}, "y2": {"field": "q3"}}}
        ]
      },
      {"mark": {"type": "rule", "opacity": 0},
       "encoding": {"x": {"field": "g", "type": "nominal", "sort": null,
          "scale": {"type": "band", "domain": ["≤ 14 div", "≤ 21 div", "≤ 28 div", "> 28 div"], "paddingInner": 0.354, "paddingOuter": 0.277},
          "axis": {"orient": "bottom", "labels": false, "ticks": false, "domain": false, "title": "in vitro", "titleFontSize": 17, "titleFontWeight": "normal", "titleFontStyle": "italic", "titleX": 129, "titleY": 36, "titleAlign": "left", "titleBaseline": "alphabetic"}}}}
    ]
  }
  ]
}
]
}
